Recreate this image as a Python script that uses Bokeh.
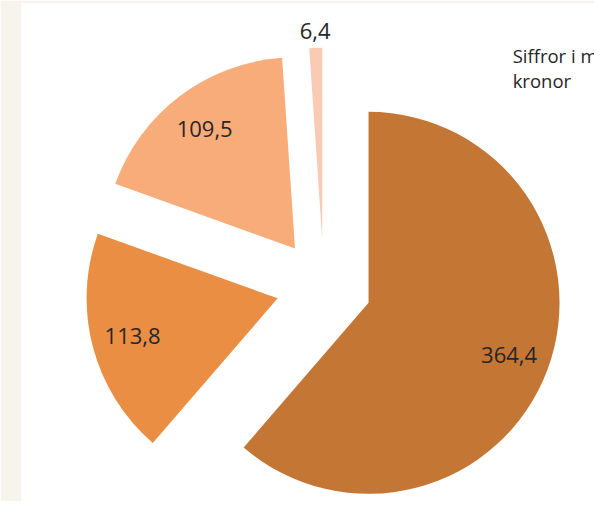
import math
from bokeh.plotting import figure
from bokeh.models import ColumnDataSource, Range1d
from bokeh.core.properties import value
from bokeh.embed import file_html
from bokeh.resources import INLINE

# ---- data ----
labels = ["364,4", "113,8", "109,5", "6,4"]
values = [364.4, 113.8, 109.5, 6.4]
colors = ["#C47735", "#E98E43", "#F8AC7A", "#FACBB4"]
label_pos = ["inside", "inside", "inside", "outside"]
caption_lines = ["Siffror i miljarder", "kronor"]

# ---- layout (data units = reference pixels, y measured downward as negative) ----
W, H = 594, 501
LEFT, TOP = 21, 3
CX, CY = 332.2, -294.9
R = 196
EXPLODE = 49
FONT = "Open Sans"

total = sum(values)
xs, ys, starts, ends, lx, ly = [], [], [], [], [], []
theta = 0.0
for v, pos in zip(values, label_pos):
    span = v / total * 360.0
    t1, t2 = theta, theta + span
    mid = math.radians((t1 + t2) / 2)
    ox = CX + EXPLODE * math.sin(mid)
    oy = CY + EXPLODE * math.cos(mid)
    xs.append(ox)
    ys.append(oy)
    starts.append(math.radians(90 - t2))
    ends.append(math.radians(90 - t1))
    rl = 0.785 * R if pos == "inside" else R + 19
    lx.append(ox + rl * math.sin(mid))
    ly.append(oy + rl * math.cos(mid))
    theta = t2

src = ColumnDataSource(dict(x=xs, y=ys, start=starts, end=ends, color=colors,
                            lx=lx, ly=ly, label=labels))

p = figure(width=W, height=H, x_range=Range1d(22, 610), y_range=Range1d(-517, -3),
           output_backend="svg", toolbar_location=None, x_axis_type=None, y_axis_type=None,
           min_border_left=LEFT, min_border_right=0, min_border_top=TOP, min_border_bottom=0,
           border_fill_color="#F7F4EE", background_fill_color="white")
p.grid.visible = False
p.outline_line_color = None

p.wedge(x="x", y="y", radius=R, start_angle="start", end_angle="end", direction="anticlock",
        fill_color="color", line_color=None, source=src)

p.text(x="lx", y="ly", text="label", source=src, text_align="center", text_baseline="middle",
       text_font=value(FONT), text_font_size="22px", text_color="#262626")

cap_src = ColumnDataSource(dict(x=[526] * len(caption_lines),
                                y=[-57 - 25 * i for i in range(len(caption_lines))],
                                t=caption_lines))
p.text(x="x", y="y", text="t", source=cap_src, text_align="left", text_baseline="alphabetic",
       text_font=value(FONT), text_font_size="18.5px", text_color="#262626")

open("out.html", "w").write(file_html(p, INLINE))
